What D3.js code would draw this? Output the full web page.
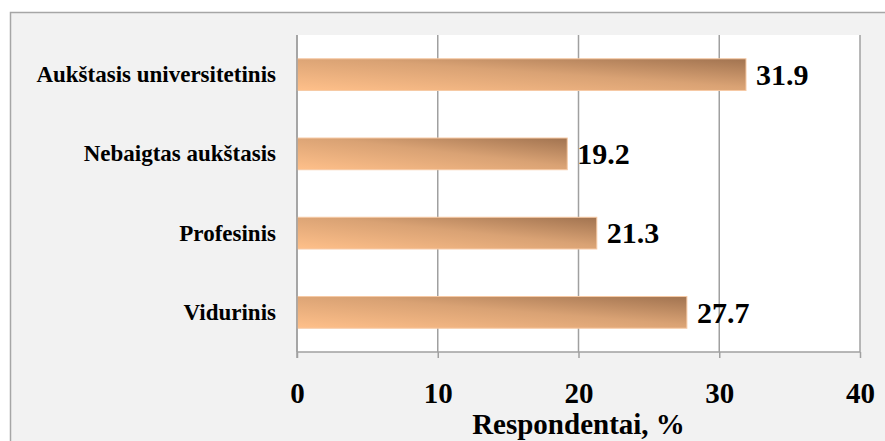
<!DOCTYPE html>
<html>
<head>
<meta charset="utf-8">
<script src="https://cdn.jsdelivr.net/npm/d3@7"></script>
<style>
  html, body { margin: 0; padding: 0; background: #ffffff; }
  svg { display: block; }
</style>
</head>
<body>
<script>
// Education level of respondents, %
const categories = ["Aukštasis universitetinis", "Nebaigtas aukštasis", "Profesinis", "Vidurinis"];
const values = [31.9, 19.2, 21.3, 27.7];
const xTicks = [0, 10, 20, 30, 40];
const xTitle = "Respondentai, %";

const W = 885, H = 441;
const plot = { left: 297, right: 860, top: 35, bottom: 352 };
const FONT = "'Liberation Serif', 'Times New Roman', 'DejaVu Serif', serif";

const svg = d3.select("body").append("svg").attr("width", W).attr("height", H)
  .attr("font-family", FONT).attr("font-weight", "bold");

// chart frame
svg.append("rect").attr("x", 10.5).attr("y", 12.5).attr("width", W).attr("height", H)
  .attr("fill", "#f2f2f2").attr("stroke", "#a6a6a6").attr("stroke-width", 1.5);

const defs = svg.append("defs");
const grad = defs.append("linearGradient").attr("id", "barGrad")
  .attr("x1", "0%").attr("y1", "100%").attr("x2", "100%").attr("y2", "0%");
grad.append("stop").attr("offset", "0%").attr("stop-color", "#ffc08a");
grad.append("stop").attr("offset", "55%").attr("stop-color", "#d9a274");
grad.append("stop").attr("offset", "100%").attr("stop-color", "#a17350");

const x = d3.scaleLinear().domain([0, 40]).range([plot.left, plot.right]);
const y = d3.scaleBand().domain(categories).range([plot.top, plot.bottom]).paddingInner(0.6).paddingOuter(0.3);

// plot area
svg.append("rect").attr("x", plot.left).attr("y", plot.top)
  .attr("width", plot.right - plot.left).attr("height", plot.bottom - plot.top)
  .attr("fill", "#ffffff");

// vertical gridlines
svg.append("g").selectAll("line").data(xTicks).join("line")
  .attr("x1", d => x(d)).attr("x2", d => x(d))
  .attr("y1", plot.top).attr("y2", plot.bottom)
  .attr("stroke", "#a0a0a0").attr("stroke-width", 1.5);

// bars
svg.append("g").selectAll("rect").data(values).join("rect")
  .attr("x", x(0))
  .attr("y", (d, i) => y(categories[i]))
  .attr("width", d => x(d) - x(0))
  .attr("height", y.bandwidth())
  .attr("fill", "url(#barGrad)")
  .attr("stroke", "#f6c9a4").attr("stroke-width", 1);

// value labels
svg.append("g").selectAll("text").data(values).join("text")
  .attr("x", d => x(d) + 10)
  .attr("y", (d, i) => y(categories[i]) + y.bandwidth() / 2)
  .attr("dy", "0.34em")
  .attr("font-size", 30)
  .attr("fill", "#000")
  .text(d => d.toFixed(1));

// x axis
const xAxis = svg.append("g").attr("transform", `translate(0,${plot.bottom})`)
  .call(d3.axisBottom(x).tickValues(xTicks).tickSize(6).tickFormat(d3.format("d")));
xAxis.attr("font-family", null).attr("font-size", null);
xAxis.select(".domain").attr("stroke", "#a0a0a0").attr("stroke-width", 1.5).attr("d", `M${plot.left},0H${plot.right}`);
xAxis.selectAll(".tick line").attr("stroke", "#a0a0a0").attr("stroke-width", 1.5);
xAxis.selectAll(".tick text").attr("font-size", 29).attr("fill", "#000").attr("y", 51).attr("dy", 0);

// y axis (category labels)
const yAxis = svg.append("g").attr("transform", `translate(${plot.left},0)`)
  .call(d3.axisLeft(y).tickSize(0).tickPadding(21));
yAxis.attr("font-family", null).attr("font-size", null);
yAxis.select(".domain").remove();
yAxis.selectAll(".tick text").attr("font-size", 23).attr("fill", "#000");
// left axis line
svg.append("line").attr("x1", plot.left).attr("x2", plot.left).attr("y1", plot.top).attr("y2", plot.bottom + 6)
  .attr("stroke", "#a0a0a0").attr("stroke-width", 1.5);

// axis title
svg.append("text").attr("x", (plot.left + plot.right) / 2).attr("y", 434)
  .attr("text-anchor", "middle").attr("font-size", 29).attr("fill", "#000").text(xTitle);
</script>
</body>
</html>
